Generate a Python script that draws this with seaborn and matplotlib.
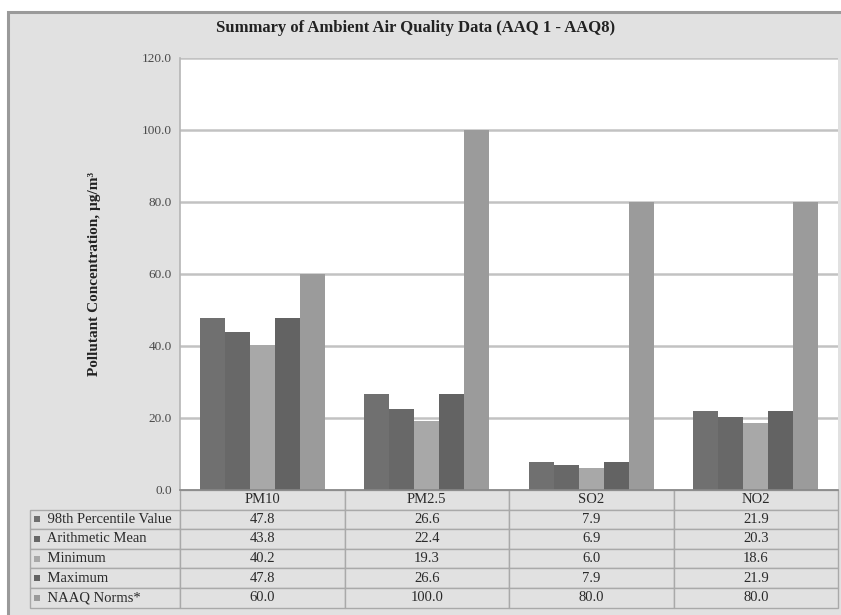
import matplotlib
matplotlib.use("Agg")
import matplotlib.pyplot as plt
import numpy as np
import pandas as pd
import seaborn as sns
from matplotlib.patches import Rectangle

# Pollutants and summary statistics (µg/m³)
pollutants = ["PM10", "PM2.5", "SO2", "NO2"]
statistics = ["98th Percentile Value", "Arithmetic Mean", "Minimum", "Maximum", "NAAQ Norms*"]
p98 = [47.8, 26.6, 7.9, 21.9]
arith_mean = [43.8, 22.4, 6.9, 20.3]
minimum = [40.2, 19.3, 6.0, 18.6]
maximum = [47.8, 26.6, 7.9, 21.9]
naaq = [60.0, 100.0, 80.0, 80.0]
series = [p98, arith_mean, minimum, maximum, naaq]
colors = ["#707070", "#686868", "#a8a8a8", "#636363", "#9b9b9b"]
yticks = [0, 20, 40, 60, 80, 100, 120]

df = pd.DataFrame(
    [(p, s, vals[i]) for s, vals in zip(statistics, series) for i, p in enumerate(pollutants)],
    columns=["Pollutant", "Statistic", "Value"],
)

sns.set_theme(style="white")
plt.rcParams["font.family"] = ["Liberation Serif", "DejaVu Serif"]

W, H = 841, 615
fig = plt.figure(figsize=(W / 100, H / 100), dpi=100)
fig.patch.set_facecolor("white")

# chart area background
fig.patches.append(Rectangle((8 / W, -0.01), 1.0, 1 - 12 / H + 0.01, transform=fig.transFigure,
                             facecolor="#e1e1e1", edgecolor="#9a9a9a", lw=2.2, zorder=-5))

ax_l, ax_r, ax_t, ax_b = 180, 838, 58, 490
ax = fig.add_axes([ax_l / W, 1 - ax_b / H, (ax_r - ax_l) / W, (ax_b - ax_t) / H])
ax.set_facecolor("white")

sns.barplot(data=df, x="Pollutant", y="Value", hue="Statistic", hue_order=statistics,
            order=pollutants, palette=colors, width=0.76, saturation=1, linewidth=0,
            legend=False, ax=ax)

ax.set_ylim(0, 120)
ax.set_xlim(-0.5, 3.5)
ax.set_yticks(yticks)
ax.set_yticklabels([f"{v:.1f}" for v in yticks], fontsize=9.5, color="#4a4a4a")
ax.tick_params(axis="y", length=0, pad=6)
ax.set_xticks([])
ax.set_xlabel("")
ax.set_ylabel("Pollutant Concentration, µg/m³", fontsize=11, fontweight="bold",
              color="#222222", labelpad=29)
ax.yaxis.grid(True, color="#c2c2c2", lw=1.8)
ax.set_axisbelow(True)
for side in ["top", "right"]:
    ax.spines[side].set_visible(False)
ax.spines["left"].set_color("#b5b5b5")
ax.spines["left"].set_linewidth(1.2)
ax.spines["bottom"].set_color("#888888")
ax.spines["bottom"].set_linewidth(1.2)

fig.text(416 / W, 1 - 28 / H, "Summary of Ambient Air Quality Data (AAQ 1 - AAQ8)",
         ha="center", va="center", fontsize=12, fontweight="bold", color="#222222")

# data table under the plot
tab_left, row_h, n_rows = 30, 19.6, 6
first_w = ax_l - tab_left
col_w = (ax_r - ax_l) / len(pollutants)
cells = [[""] + pollutants]
for s, vals in zip(statistics, series):
    cells.append(["    " + s] + [f"{v:.1f}" for v in vals])
axw = ax_r - ax_l
axh = ax_b - ax_t
bbox = [(tab_left - ax_l) / axw, -(n_rows * row_h) / axh,
        (ax_r - tab_left) / axw, (n_rows * row_h) / axh]
table = ax.table(cellText=cells, bbox=bbox, cellLoc="center",
                 colWidths=[first_w] + [col_w] * len(pollutants))
table.auto_set_font_size(False)
for (r, c), cell in table.get_celld().items():
    cell.set_facecolor("#e1e1e1")
    cell.set_edgecolor("#a9a9a9")
    cell.set_linewidth(1.0)
    cell.get_text().set_fontsize(10.5)
    cell.get_text().set_color("#2a2a2a")
    if c == 0:
        cell.get_text().set_ha("left")
        cell._loc = "left"
        cell.PAD = 0.02
    if r == 0 and c == 0:
        cell.set_edgecolor("none")
        cell.set_facecolor("none")

# legend keys beside the row labels
for i, col in enumerate(colors):
    yc = ax_b + row_h * (i + 1.5)
    fig.patches.append(Rectangle((34 / W, 1 - (yc + 3) / H), 6 / W, 6 / H,
                                 transform=fig.transFigure, facecolor=col,
                                 edgecolor="none", zorder=5))

fig.savefig("out.png", dpi=100)
